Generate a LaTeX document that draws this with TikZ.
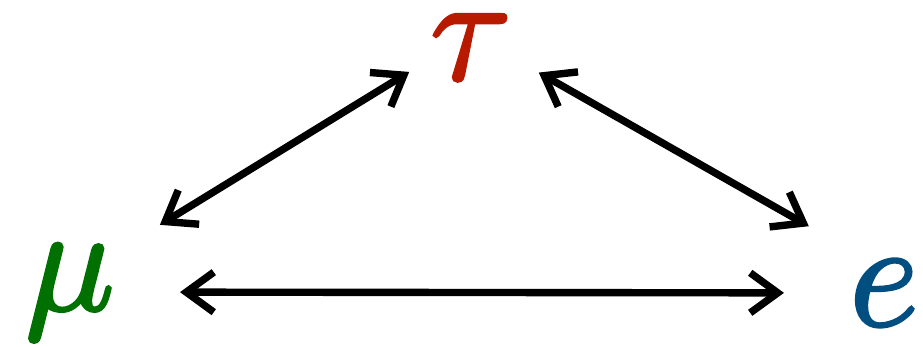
\documentclass[tikz,border=0pt]{standalone}
\usepackage{amsmath}
\usepackage{xcolor}
\usetikzlibrary{
    positioning,
    arrows.meta
}
\definecolor{taured}{RGB}{184,26,0}
\definecolor{mugreen}{RGB}{0,112,0}
\definecolor{eblue}{RGB}{0,79,128}
% slightly heavier glyphs: fill and stroke the outline
\newcommand{\heavyglyph}[1]{\special{pdf:literal 2 Tr 0.55 w}#1\special{pdf:literal 0 Tr}}

\begin{document}
\begin{tikzpicture}[
        lepton/.style={inner sep=0pt, scale=3.45, font=\Huge},
        osc/.style={line width=4.2pt, {Straight Barb[length=5.5mm,width=8mm]}-{Straight Barb[length=5.5mm,width=8mm]}}
      ]
      \useasboundingbox (0,0) rectangle (18.46,6.92);

      \node[lepton, text=taured] (tau) at (9.42,5.98) {\heavyglyph{$\tau$}};
      \node[lepton, text=mugreen] (mu) at (1.40,1.08) {\heavyglyph{$\mu$}};
      \node[lepton, text=eblue] (e) at (17.68,1.06) {\heavyglyph{$e$}};

      \draw[osc, shorten <=2.11cm, shorten >=1.45cm] ([yshift=0.24cm]mu.center) -- ([yshift=0.26cm]tau.center);
      \draw[osc, shorten <=1.56cm, shorten >=1.73cm] ([yshift=0.26cm]tau.center) -- ([yshift=0.48cm]e.center);
      \draw[osc, shorten <=2.2cm, shorten >=2.0cm] (mu.center) -- (e.center);
    \end{tikzpicture}
\end{document}
